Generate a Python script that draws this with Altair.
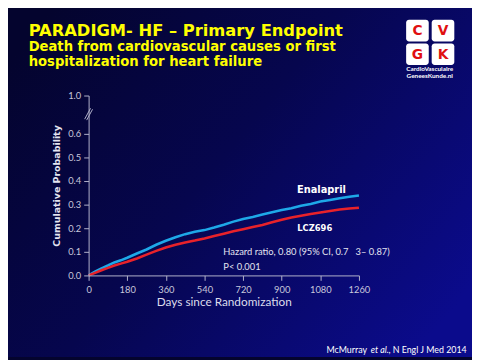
import altair as alt
import pandas as pd

# ---------------- data ----------------
days = [0, 30, 60, 90, 120, 150, 180, 225, 270, 315, 360, 405, 450, 495, 540,
        585, 630, 675, 720, 765, 810, 855, 900, 945, 990, 1035, 1080, 1125,
        1170, 1215, 1260]
enalapril = [0.0, 0.016, 0.030, 0.042, 0.055, 0.064, 0.075, 0.093, 0.110,
             0.130, 0.147, 0.162, 0.175, 0.185, 0.192, 0.203, 0.215, 0.228,
             0.239, 0.248, 0.258, 0.268, 0.277, 0.285, 0.295, 0.303, 0.313,
             0.320, 0.327, 0.333, 0.339]
lcz696 = [0.0, 0.011, 0.022, 0.032, 0.042, 0.050, 0.058, 0.072, 0.088,
          0.104, 0.118, 0.130, 0.140, 0.148, 0.157, 0.167, 0.177, 0.187,
          0.196, 0.205, 0.214, 0.225, 0.236, 0.245, 0.253, 0.260, 0.267,
          0.273, 0.279, 0.284, 0.287]
arms = ["Enalapril", "LCZ696"]
x_ticks = [0, 180, 360, 540, 720, 900, 1080, 1260]
y_ticks = [0.0, 0.1, 0.2, 0.3, 0.4, 0.5, 0.6]

title_main = "PARADIGM- HF \u2013 Primary Endpoint"
title_sub1 = "Death from cardiovascular causes or first"
title_sub2 = "hospitalization for heart failure"
hr_text = "Hazard ratio, 0.80 (95% CI, 0.7\u00a0\u00a0\u00a03\u2013 0.87)"
p_text = "P<\u00a00.001"
logo_letters = ["C", "V", "G", "K"]
logo_lines = ["CardioVasculaire", "GeneesKunde.nl"]
cite = ["McMurray", "et al.", ", N Engl J Med 2014"]

df = pd.DataFrame({
    "day": days + days,
    "p": enalapril + lcz696,
    "arm": [arms[0]] * len(days) + [arms[1]] * len(days),
})

W, H = 275, 183
YMAX = 0.7625  # position of the "1.0" tick above the axis break

x_scale = alt.Scale(domain=[0, 1260], nice=False, zero=False)
y_scale = alt.Scale(domain=[0, YMAX], nice=False)
one = alt.Data(values=[{}])

AX = "#b4b4cc"
LBL = "#c8c8dc"

x_axis = alt.Axis(values=x_ticks, format="d", title="Days since Randomization",
                  labelFont="Lato", labelFontSize=9.5, labelColor=LBL,
                  tickColor=AX, domainColor=AX, tickSize=5, labelPadding=4,
                  titleFont="Lato", titleFontSize=12, titleFontWeight="normal",
                  titleColor="#dcdcec", titlePadding=3, grid=False,
                  labelFlush=False, labelOverlap=False, zindex=1)
y_axis = alt.Axis(values=y_ticks + [YMAX],
                  labelExpr="datum.value > 0.7 ? '1.0' : format(datum.value, '.1f')",
                  title="Cumulative Probability",
                  labelFont="Lato", labelFontSize=9.5, labelColor=LBL,
                  tickColor=AX, domainColor=AX, tickSize=5, labelPadding=3,
                  labelOverlap=False, labelBound=False,
                  titleFont="DejaVu Sans", titleFontSize=9.6, titleFontWeight="bold",
                  titleColor="#e4e4f0", titlePadding=6, grid=False, zindex=1)

bg = alt.Chart(one).mark_rect(
    color=alt.Gradient(
        gradient="linear",
        stops=[alt.GradientStop(color="#04042e", offset=0),
               alt.GradientStop(color="#06064e", offset=0.45),
               alt.GradientStop(color="#0b0b8c", offset=1)],
        x1=0, x2=1, y1=0.2, y2=0.8)
).encode(x=alt.value(-90), x2=alt.value(390), y=alt.value(-94), y2=alt.value(266))

lines = alt.Chart(df).mark_line(strokeWidth=2.6).encode(
    x=alt.X("day:Q", scale=x_scale, axis=x_axis),
    y=alt.Y("p:Q", scale=y_scale, axis=y_axis),
    color=alt.Color("arm:N", scale=alt.Scale(domain=arms, range=["#1ea8e8", "#e8222a"]),
                    legend=None),
)

brk1 = alt.Chart(one).mark_rule(color=AX, strokeWidth=1).encode(
    x=alt.value(-4), x2=alt.value(2), y=alt.value(24), y2=alt.value(13))
brk2 = alt.Chart(one).mark_rule(color=AX, strokeWidth=1).encode(
    x=alt.value(-2), x2=alt.value(4), y=alt.value(25), y2=alt.value(14))

def dtext(txt, day, p, **kw):
    return alt.Chart(one).mark_text(**kw).encode(
        x=alt.XDatum(day, type="quantitative", scale=x_scale, axis=x_axis),
        y=alt.YDatum(p, type="quantitative", scale=y_scale, axis=y_axis),
        text=alt.value(txt))

def ptext(txt, x, y, **kw):
    return alt.Chart(one).mark_text(**kw).encode(
        x=alt.value(x), y=alt.value(y), text=alt.value(txt))

ann = [
    dtext(arms[0], 1085, 0.36, font="DejaVu Sans", fontSize=10, fontWeight="bold",
          color="white"),
    dtext(arms[1], 1054, 0.20, font="DejaVu Sans", fontSize=8.5, fontWeight="bold",
          color="white"),
    dtext(hr_text, 628, 0.10, font="Lato", fontSize=9.5, color="#e4e4f0", align="left"),
    dtext(p_text, 628, 0.0375, font="Lato", fontSize=9.5, color="#e4e4f0", align="left"),
]

YEL = "#ffff00"
titles = [
    ptext(title_main, -61, -61, font="DejaVu Sans", fontSize=16.6, fontWeight="bold",
          color=YEL, align="left", baseline="alphabetic"),
    ptext(title_sub1, -61, -45, font="DejaVu Sans", fontSize=13.4, fontWeight="bold",
          color=YEL, align="left", baseline="alphabetic"),
    ptext(title_sub2, -61, -30, font="DejaVu Sans", fontSize=13.4, fontWeight="bold",
          color=YEL, align="left", baseline="alphabetic"),
    ptext(cite[0], 242, 262, font="Lato", fontSize=9, color="white", align="left",
          baseline="alphabetic"),
    ptext(cite[1], 287, 262, font="Lato", fontSize=9, fontStyle="italic", color="white",
          align="left", baseline="alphabetic"),
    ptext(cite[2], 305, 262, font="Lato", fontSize=9, color="white", align="left",
          baseline="alphabetic"),
]

logo = []
sq = [(323, -77), (349, -77), (323, -53), (349, -53)]
for (lx, ly), letter in zip(sq, logo_letters):
    logo.append(alt.Chart(one).mark_rect(color="white", cornerRadius=3).encode(
        x=alt.value(lx), x2=alt.value(lx + 23), y=alt.value(ly), y2=alt.value(ly + 22)))
    logo.append(ptext(letter, lx + 11.5, ly + 11.5, font="DejaVu Sans", fontSize=14,
                      fontWeight="bold", color="#e01010"))
logo.append(ptext(logo_lines[0], 347, -27, font="Lato", fontSize=6.5, fontWeight="bold",
                  color="white"))
logo.append(ptext(logo_lines[1], 347, -20, font="Lato", fontSize=6.5, fontWeight="bold",
                  color="white"))

chart = alt.layer(bg, lines, brk1, brk2, *ann, *titles, *logo).properties(
    width=W, height=H,
    padding={"left": 82, "top": 86, "right": 115, "bottom": 83},
    autosize="none",
    background="#04042e",
).configure_view(stroke=None)

chart.save("out.html", embed_options={"renderer": "svg", "actions": False})
